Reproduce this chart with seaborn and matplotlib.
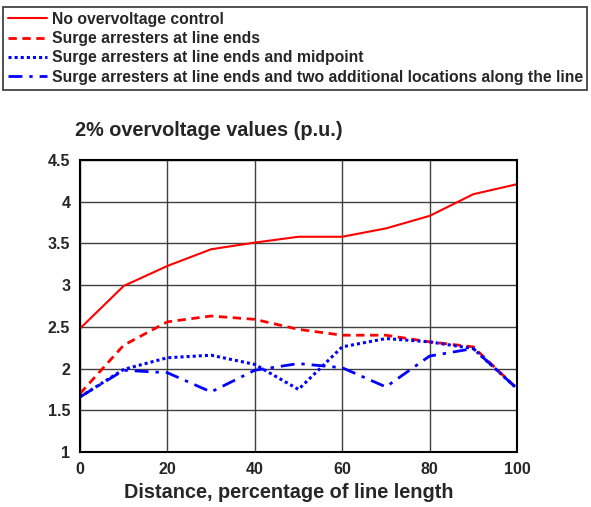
import matplotlib
matplotlib.use("Agg")
import matplotlib.pyplot as plt
import seaborn as sns
import pandas as pd

distance = [0, 10, 20, 30, 40, 50, 60, 70, 80, 90, 100]
no_control = [2.48, 2.99, 3.23, 3.43, 3.51, 3.58, 3.58, 3.68, 3.83, 4.09, 4.21]
ends = [1.70, 2.28, 2.56, 2.63, 2.59, 2.47, 2.40, 2.40, 2.32, 2.26, 1.76]
ends_mid = [1.66, 1.99, 2.13, 2.16, 2.05, 1.75, 2.26, 2.36, 2.32, 2.24, 1.76]
ends_two = [1.66, 1.98, 1.95, 1.72, 1.98, 2.06, 2.01, 1.78, 2.15, 2.24, 1.76]

labels = [
    "No overvoltage control",
    "Surge arresters at line ends",
    "Surge arresters at line ends and midpoint",
    "Surge arresters at line ends and two additional locations along the line",
]
series = [no_control, ends, ends_mid, ends_two]
colors = ["#ff0000", "#ff0000", "#0000ff", "#0000ff"]
styles = ["-", (0, (3, 2)), (0, (1, 1)), (0, (5, 2.5, 1.2, 2.5))]
widths = [1.5, 2.0, 2.2, 2.0]

sns.set_style("white")
plt.rcParams["font.family"] = ["Liberation Sans", "DejaVu Sans"]
plt.rcParams["font.weight"] = "bold"

fig = plt.figure(figsize=(5.91, 5.07), dpi=100)
ax = fig.add_axes([80 / 591, 1 - 452 / 507, 437 / 591, 292 / 507])

handles = []
for lab, vals, c, ls, lw in zip(labels, series, colors, styles, widths):
    df = pd.DataFrame({"x": distance, "y": vals})
    sns.lineplot(data=df, x="x", y="y", ax=ax, color=c, lw=lw, label=lab)
    line = ax.get_lines()[-1]
    line.set_linestyle(ls)
    handles.append(line)

ax.get_legend().remove()
ax.set_xlim(0, 100)
ax.set_ylim(1, 4.5)
ax.set_xticks(range(0, 101, 20))
ax.set_yticks([1, 1.5, 2, 2.5, 3, 3.5, 4, 4.5])
ax.set_yticklabels(["1", "1.5", "2", "2.5", "3", "3.5", "4", "4.5"])
ax.grid(True, color="#404040", lw=1)
ax.set_axisbelow(True)
for s in ax.spines.values():
    s.set_color("black")
    s.set_linewidth(1.5)
ax.tick_params(axis="x", labelsize=11.5, length=0, pad=7)
ax.tick_params(axis="y", labelsize=11.5, length=0, pad=7)
for t in ax.get_xticklabels() + ax.get_yticklabels():
    t.set_fontweight("bold")
ax.set_xlabel("Distance, percentage of line length", fontsize=14.3, fontweight="bold")
ax.xaxis.set_label_coords(0.478, -40 / 292)
ax.xaxis.label.set_va("center")
ax.set_ylabel("")
fig.text(75 / 591, 1 - 130 / 507, "2% overvoltage values (p.u.)", fontsize=14.3, fontweight="bold",
         ha="left", va="center")

leg = fig.legend(handles=handles, labels=labels, loc="upper left",
                 bbox_to_anchor=(3 / 591, 1 - 7 / 507), frameon=True, fancybox=False,
                 prop={"weight": "bold", "size": 11.3}, handlelength=2.5, handletextpad=0.3,
                 labelspacing=0.28, borderpad=0.3, borderaxespad=0)
leg.get_frame().set_edgecolor("black")
leg.get_frame().set_linewidth(1.2)

fig.savefig("out.png", dpi=100)
